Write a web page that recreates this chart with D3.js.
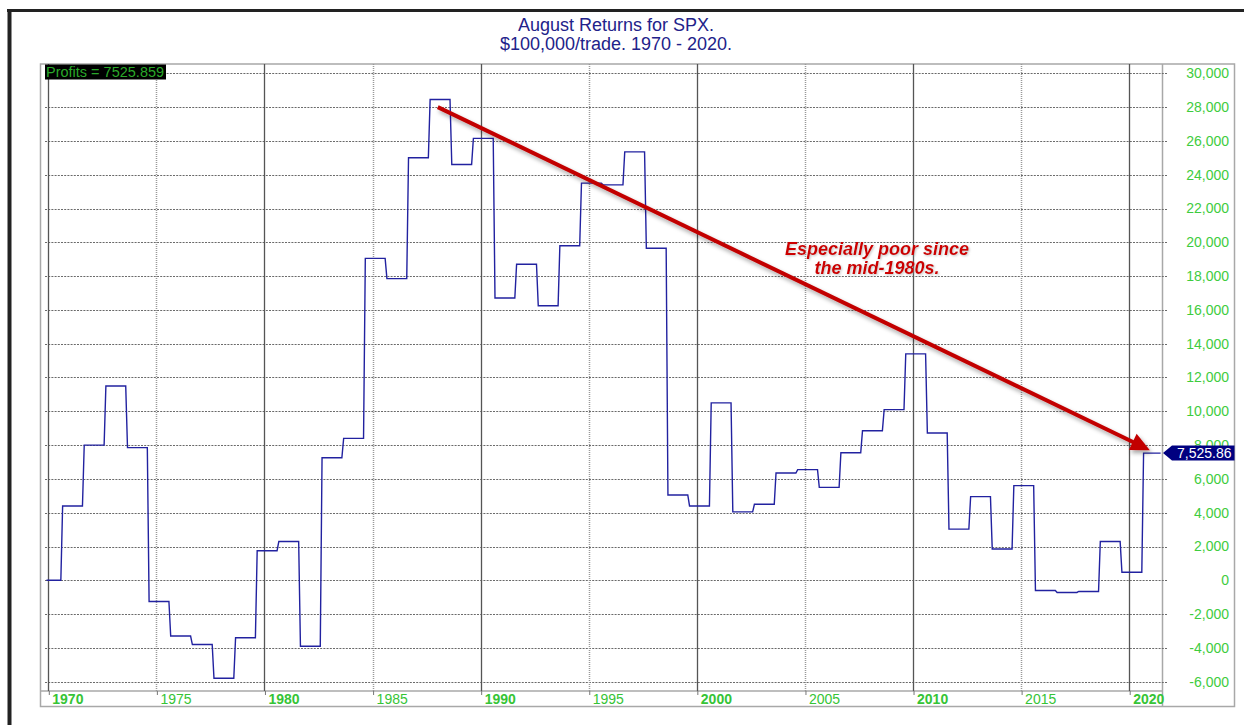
<!DOCTYPE html>
<html>
<head>
<meta charset="utf-8">
<script src="https://cdn.jsdelivr.net/npm/d3@7"></script>
<style>
  body { margin: 0; background: #fff; }
  text { font-family: Arial, "Liberation Sans", sans-serif; }
</style>
</head>
<body>
<div id="chart"></div>
<script>
// Data: cumulative profit after each August trade
const years = [1970, 1971, 1972, 1973, 1974, 1975, 1976, 1977, 1978, 1979,
               1980, 1981, 1982, 1983, 1984, 1985, 1986, 1987, 1988, 1989,
               1990, 1991, 1992, 1993, 1994, 1995, 1996, 1997, 1998, 1999,
               2000, 2001, 2002, 2003, 2004, 2005, 2006, 2007, 2008, 2009,
               2010, 2011, 2012, 2013, 2014, 2015, 2016, 2017, 2018, 2019, 2020];
const profits = [4400, 8000, 11500, 7850, -1250, -3300, -3800, -5800, -3400, 1750,
                 2300, -3900, 7250, 8400, 19050, 17850, 25000, 28450, 24600, 26150,
                 16700, 18700, 16250, 19800, 23500, 23400, 25350, 19650, 5050, 4400,
                 10500, 4050, 4500, 6350, 6550, 5500, 7550, 8850, 10100, 13400,
                 8720, 3030, 4950, 1850, 5600, -600, -720, -660, 2300, 480, 7525.859];
const yTicks = [-6000, -4000, -2000, 0, 2000, 4000, 6000, 8000, 10000, 12000,
                14000, 16000, 18000, 20000, 22000, 24000, 26000, 28000, 30000];
const xTickYears = [1970, 1975, 1980, 1985, 1990, 1995, 2000, 2005, 2010, 2015, 2020];
const titleLines = ["August Returns for SPX.", "$100,000/trade. 1970 - 2020."];
const noteLines = ["Especially poor since", "the mid-1980s."];
const arrowFrom = [new Date(1988, 0, 8), 28000];
const arrowTo = [new Date(2020, 11, 15), 7700];
const firstDate = new Date(1969, 11, 1);
const lastDate = new Date(2021, 5, 15);

// Layout
const width = 1244, height = 725;
const panelLeft = 40.5, panelTop = 64, plotRight = 1162.5, panelRight = 1234.5;
const axisY = 691, panelBottom = 706.5;

// plain hyphen for negatives, like the original
const fmt = d3.formatLocale({decimal: ".", thousands: ",", grouping: [3], currency: ["$", ""], minus: "-"});

const svg = d3.select("#chart").append("svg")
  .attr("width", width)
  .attr("height", height)
  .style("display", "block");

svg.append("rect").attr("width", width).attr("height", height).attr("fill", "#fff");

const defs = svg.append("defs");
const shadow = defs.append("filter").attr("id", "shadow")
  .attr("x", "-10%").attr("y", "-10%").attr("width", "130%").attr("height", "140%");
shadow.append("feDropShadow").attr("dx", 2).attr("dy", 3).attr("stdDeviation", 2)
  .attr("flood-color", "#000").attr("flood-opacity", 0.35);
const glow = defs.append("filter").attr("id", "glow");
glow.append("feDropShadow").attr("dx", 1).attr("dy", 1).attr("stdDeviation", 0.8)
  .attr("flood-color", "#888").attr("flood-opacity", 0.5);

// Scales
const x = d3.scaleTime()
  .domain([new Date(1970, 0, 1), new Date(2020, 0, 1)])
  .range([48.3, 1129.2]);
const y = d3.scaleLinear()
  .domain([0, 30000])
  .range([580.3, 73.3]);

// Outer dark frame
svg.append("line").attr("x1", 7).attr("x2", width).attr("y1", 10.5).attr("y2", 10.5)
  .attr("stroke", "#222").attr("stroke-width", 3);
svg.append("line").attr("x1", 9.5).attr("x2", 9.5).attr("y1", 9).attr("y2", height)
  .attr("stroke", "#222").attr("stroke-width", 4);

// Title
svg.append("text")
  .attr("text-anchor", "middle")
  .attr("fill", "#22228a").attr("font-size", 18)
  .selectAll("tspan").data(titleLines).join("tspan")
  .attr("x", 616).attr("y", (d, i) => 31 + i * 19)
  .text(d => d);

// Panel frames
const frame = svg.append("g").attr("fill", "none").attr("stroke", "#a8a8a8").attr("stroke-width", 1.5);
frame.append("rect").attr("x", panelLeft).attr("y", panelTop)
  .attr("width", panelRight - panelLeft).attr("height", panelBottom - panelTop);
frame.append("line").attr("x1", plotRight).attr("x2", plotRight).attr("y1", panelTop).attr("y2", panelBottom);
frame.append("line").attr("x1", panelLeft).attr("x2", plotRight).attr("y1", axisY).attr("y2", axisY);

// Horizontal grid
svg.append("g").selectAll("line").data(yTicks).join("line")
  .attr("x1", 45).attr("x2", 1167)
  .attr("y1", d => Math.round(y(d)) + 0.5).attr("y2", d => Math.round(y(d)) + 0.5)
  .attr("stroke", "#6a6a6a").attr("stroke-dasharray", "2,1.2");

// Vertical grid: decades solid, half decades dotted
const tickDates = xTickYears.map(yr => new Date(yr, 0, 1));
svg.append("g").selectAll("line").data(tickDates).join("line")
  .attr("x1", d => Math.round(x(d)) + 0.5).attr("x2", d => Math.round(x(d)) + 0.5)
  .attr("y1", panelTop).attr("y2", axisY)
  .attr("stroke", d => d.getFullYear() % 10 === 0 ? "#555" : "#999")
  .attr("stroke-width", d => d.getFullYear() % 10 === 0 ? 1.3 : 1.5)
  .attr("stroke-dasharray", d => d.getFullYear() % 10 === 0 ? null : "1,1");

// X axis
const xAxis = d3.axisBottom(x)
  .tickValues(tickDates)
  .tickSize(4)
  .tickFormat(d3.timeFormat("%Y"));
svg.append("g")
  .attr("transform", `translate(0.5, ${axisY})`)
  .call(xAxis)
  .call(g => g.select(".domain").remove())
  .call(g => g.selectAll("line").attr("stroke", "#777"))
  .call(g => g.selectAll("text")
    .attr("text-anchor", "start")
    .attr("x", 3)
    .attr("y", 1)
    .attr("dy", "0.85em")
    .attr("fill", "#36c436")
    .attr("font-size", 14)
    .attr("font-family", "Arial, 'Liberation Sans', sans-serif")
    .attr("font-weight", d => d.getFullYear() % 10 === 0 ? "bold" : "normal"));

// Y axis labels on the right
const yAxis = d3.axisRight(y)
  .tickValues(yTicks)
  .tickSize(0)
  .tickFormat(fmt.format(","));
svg.append("g")
  .attr("transform", `translate(1229, 0)`)
  .call(yAxis)
  .call(g => g.select(".domain").remove())
  .call(g => g.selectAll("text")
    .attr("x", 0)
    .attr("text-anchor", "end")
    .attr("fill", "#3ecc3e")
    .attr("font-size", 14)
    .attr("font-family", "Arial, 'Liberation Sans', sans-serif"));

// Equity step line
const points = [[firstDate, 0]];
let prev = 0;
years.forEach((yr, i) => {
  points.push([new Date(yr, 7, 1), prev]);
  points.push([new Date(yr, 7, 31), profits[i]]);
  prev = profits[i];
});
points.push([lastDate, prev]);

const line = d3.line().x(d => x(d[0])).y(d => y(d[1]));
svg.append("path")
  .datum(points)
  .attr("d", line)
  .attr("fill", "none")
  .attr("stroke", "#2222a0")
  .attr("stroke-width", 1.4);

// Red trend arrow
const ax1 = x(arrowFrom[0]), ay1 = y(arrowFrom[1]);
const ax2 = x(arrowTo[0]), ay2 = y(arrowTo[1]);
const len = Math.hypot(ax2 - ax1, ay2 - ay1);
const ux = (ax2 - ax1) / len, uy = (ay2 - ay1) / len;
const headLen = 19, headHalf = 9;
const bx = ax2 - ux * headLen, by = ay2 - uy * headLen;
const arrow = svg.append("g").attr("filter", "url(#shadow)");
arrow.append("line")
  .attr("x1", ax1).attr("y1", ay1).attr("x2", bx + ux * 2).attr("y2", by + uy * 2)
  .attr("stroke", "#c20000").attr("stroke-width", 4);
arrow.append("path")
  .attr("d", `M${ax2},${ay2}L${bx - uy * headHalf},${by + ux * headHalf}L${bx + uy * headHalf},${by - ux * headHalf}Z`)
  .attr("fill", "#c20000");

// Note text
svg.append("text")
  .attr("fill", "#cc0000")
  .attr("font-size", 18)
  .attr("font-weight", "bold")
  .attr("font-style", "italic")
  .attr("text-anchor", "middle")
  .attr("filter", "url(#glow)")
  .selectAll("tspan").data(noteLines).join("tspan")
  .attr("x", 877).attr("y", (d, i) => 255 + i * 18.5)
  .text(d => d);

// Profits label box
const lastValue = profits[profits.length - 1];
svg.append("rect").attr("x", 45).attr("y", 64.5).attr("width", 121).attr("height", 15).attr("fill", "#000");
svg.append("text")
  .attr("x", 46).attr("y", 77)
  .attr("fill", "#2aa82a").attr("font-size", 14.5)
  .text(`Profits = ${lastValue.toFixed(3)}`);

// Last value tag on the y axis
const ty = y(lastValue);
svg.append("path")
  .attr("d", `M${plotRight + 0.5},${ty}L${plotRight + 9.5},${ty - 7.5}L${panelRight},${ty - 7.5}L${panelRight},${ty + 7.5}L${plotRight + 9.5},${ty + 7.5}Z`)
  .attr("fill", "#000080");
svg.append("text")
  .attr("x", 1177).attr("y", ty).attr("dy", "0.36em")
  .attr("fill", "#fff").attr("font-size", 14)
  .text(fmt.format(",.2f")(lastValue));
</script>
</body>
</html>
